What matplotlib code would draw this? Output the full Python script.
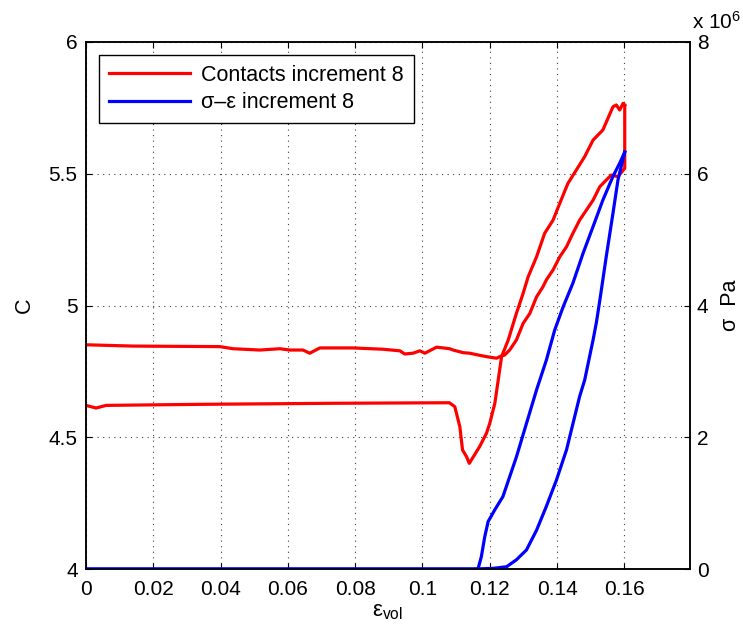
import matplotlib
matplotlib.use('Agg')
import matplotlib.pyplot as plt
from matplotlib.lines import Line2D

# coordination number C during loading (strain goes up)
load_eps = [0.0, 0.003, 0.006, 0.034, 0.074, 0.108, 0.1096, 0.1111, 0.1119, 0.1131,
            0.1139, 0.117, 0.119, 0.120, 0.1215, 0.1225, 0.1235, 0.1255, 0.1279,
            0.1299, 0.1314, 0.1339, 0.1363, 0.1388, 0.1408, 0.1432, 0.1457, 0.1482,
            0.1507, 0.1536, 0.1566, 0.1576, 0.1586, 0.1596, 0.1601]
load_c = [4.621, 4.611, 4.621, 4.625, 4.629, 4.631, 4.616, 4.540, 4.452, 4.426,
          4.401, 4.465, 4.515, 4.553, 4.629, 4.717, 4.806, 4.870, 4.970,
          5.046, 5.109, 5.185, 5.274, 5.324, 5.388, 5.463, 5.514, 5.565,
          5.628, 5.666, 5.754, 5.761, 5.742, 5.767, 5.760]

# coordination number C during unloading (strain goes back down)
unload_eps = [0.1601, 0.1601, 0.1581, 0.1561, 0.1546, 0.1527, 0.1507, 0.1487, 0.1467,
              0.1447, 0.1428, 0.1408, 0.1388, 0.1368, 0.1358, 0.1339, 0.1319, 0.1299,
              0.1279, 0.1259, 0.1244, 0.1230, 0.1220, 0.1190, 0.1170, 0.1140, 0.1121,
              0.1091, 0.1081, 0.1042, 0.1007, 0.0992, 0.0972, 0.0947, 0.0933, 0.0883,
              0.0794, 0.0695, 0.0665, 0.0645, 0.0606, 0.0576, 0.0517, 0.0437, 0.0398,
              0.014, 0.0]
unload_c = [5.760, 5.521, 5.489, 5.495, 5.476, 5.451, 5.400, 5.362, 5.324,
            5.274, 5.223, 5.185, 5.135, 5.097, 5.071, 5.033, 4.970, 4.932,
            4.869, 4.831, 4.812, 4.806, 4.800, 4.806, 4.811, 4.819, 4.821,
            4.831, 4.836, 4.842, 4.819, 4.828, 4.819, 4.816, 4.828, 4.834,
            4.839, 4.839, 4.819, 4.831, 4.831, 4.836, 4.831, 4.836, 4.844,
            4.846, 4.851]

# stress (x 1e6 Pa), loading branch
sig_load_eps = [0.0, 0.1165, 0.1175, 0.1185, 0.1195, 0.1215, 0.1239, 0.1259, 0.1279,
                0.1309, 0.1339, 0.1368, 0.1393, 0.1418, 0.1447, 0.1477, 0.1507,
                0.1536, 0.1566, 0.1586, 0.1601]
sig_load = [0.0, 0.0, 0.19, 0.49, 0.72, 0.90, 1.10, 1.40, 1.70,
            2.21, 2.72, 3.17, 3.63, 3.98, 4.34, 4.79, 5.20,
            5.60, 5.96, 6.16, 6.33]

# stress (x 1e6 Pa), unloading branch
sig_unload_eps = [0.1601, 0.1581, 0.1566, 0.1546, 0.1527, 0.1517, 0.1507, 0.1482,
                  0.1467, 0.1428, 0.1398, 0.1368, 0.1339, 0.1309, 0.1279, 0.125,
                  0.121, 0.115, 0.0]
sig_unload = [6.33, 5.91, 5.40, 4.74, 4.08, 3.75, 3.48, 2.87,
              2.62, 1.81, 1.35, 0.95, 0.59, 0.29, 0.14, 0.035,
              0.01, 0.0, 0.0]

x_ticks = [0, 0.02, 0.04, 0.06, 0.08, 0.1, 0.12, 0.14, 0.16]
x_tick_labels = ['0', '0.02', '0.04', '0.06', '0.08', '0.1', '0.12', '0.14', '0.16']
c_ticks = [4, 4.5, 5, 5.5, 6]
sig_ticks = [0, 2, 4, 6, 8]

plt.rcParams['font.family'] = ['Liberation Sans', 'DejaVu Sans']
plt.rcParams['mathtext.fontset'] = 'custom'
plt.rcParams['mathtext.rm'] = 'Liberation Sans'
plt.rcParams['mathtext.it'] = 'Liberation Sans'

fig = plt.figure(figsize=(7.43, 6.39), dpi=100)
ax = fig.add_axes([0.1157, 0.1095, 0.813, 0.8248])
ax2 = ax.twinx()

ax.plot(load_eps, load_c, color='#ff0000', lw=2.3, solid_joinstyle='round')
ax.plot(unload_eps, unload_c, color='#ff0000', lw=2.3, solid_joinstyle='round')
ax2.plot(sig_load_eps, sig_load, color='#0000ff', lw=2.3, solid_joinstyle='round')
ax2.plot(sig_unload_eps, sig_unload, color='#0000ff', lw=2.3, solid_joinstyle='round')

ax.set_xlim(0, 0.1795)
ax.set_ylim(4, 6)
ax2.set_ylim(0, 8)
ax.set_xticks(x_ticks)
ax.set_xticklabels(x_tick_labels)
ax.set_yticks(c_ticks)
ax.set_yticklabels(['4', '4.5', '5', '5.5', '6'])
ax2.set_yticks(sig_ticks)
ax2.set_yticklabels([str(t) for t in sig_ticks])

ax.grid(True, color='0.25', linestyle=(0, (1, 4)), linewidth=0.8)
ax.tick_params(direction='in', length=4.5, width=0.8, labelsize=15, top=True,
               right=False, pad=6)
ax.tick_params(axis='x', pad=8)
ax2.tick_params(direction='in', length=4.5, width=0.8, labelsize=15, pad=5)
for a in (ax, ax2):
    for s in a.spines.values():
        s.set_linewidth(1.1)

ax.set_xlabel('ε$_{\\mathrm{vol}}$', fontsize=16, labelpad=1)
ax.set_ylabel('C', fontsize=15.5, labelpad=10)
ax2.set_ylabel('σ  Pa', fontsize=15.5, labelpad=8)
ax2.text(1.003, 1.018, 'x 10$^{6}$', transform=ax2.transAxes, fontsize=15,
         ha='left', va='bottom')

handles = [Line2D([], [], color='#ff0000', lw=2.3),
           Line2D([], [], color='#0000ff', lw=2.3)]
leg = ax2.legend(handles, ['Contacts increment 8', 'σ–ε increment 8'],
                 loc='upper left', bbox_to_anchor=(0.0215, 0.975), borderaxespad=0,
                 fontsize=15.5, handlelength=3.8, handletextpad=0.5,
                 labelspacing=0.3, borderpad=0.45, fancybox=False, framealpha=1)
leg.get_frame().set_edgecolor('black')
leg.get_frame().set_linewidth(1.0)

fig.savefig('out.png', dpi=100)
plt.close(fig)
